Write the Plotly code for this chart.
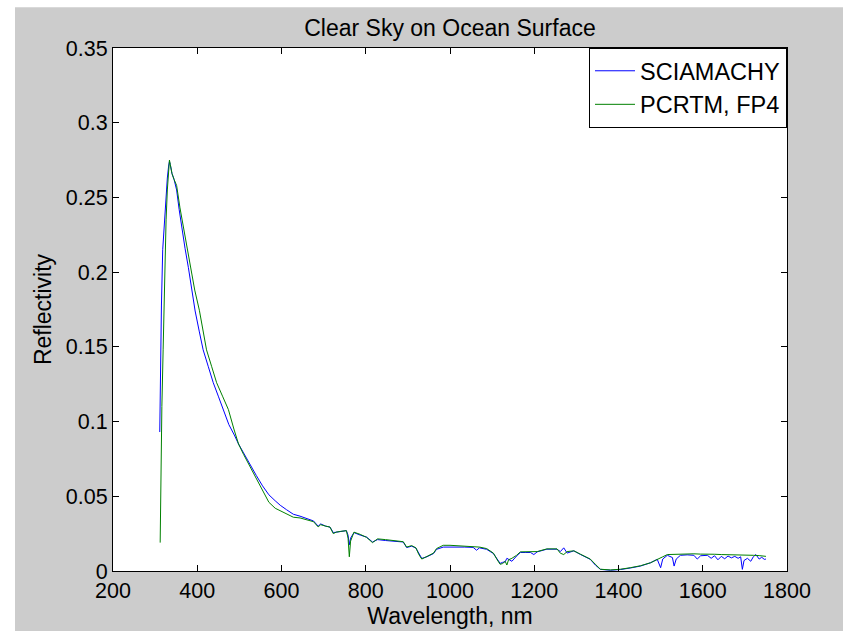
import plotly.graph_objects as go

# ---------------- data ----------------
sciamachy_wl = [311, 312, 313, 315, 318, 322, 326, 329, 332, 334, 336, 340, 345, 351, 357, 363,
                371, 379, 387, 395, 405, 414, 426, 438, 450, 462, 475, 488, 498, 510, 525, 540,
                555, 570, 585, 597, 612, 628, 644, 660, 676, 687, 693, 705, 715, 723, 730, 740,
                747, 754, 758, 761, 764, 772, 787, 802, 816, 828, 847, 870, 889, 897, 909, 919,
                926, 933, 945, 961, 968, 984, 1000, 1015, 1035, 1055, 1063, 1070, 1087, 1103, 1112, 1119,
                1125, 1131, 1135, 1139, 1147, 1158, 1167, 1180, 1191, 1199, 1207, 1230, 1254, 1262, 1270, 1278,
                1294, 1310, 1333, 1345, 1357, 1381, 1405, 1428, 1452, 1476, 1492, 1500, 1505, 1516, 1528, 1532,
                1537, 1547, 1563, 1579, 1587, 1595, 1611, 1620, 1628, 1636, 1644, 1652, 1660, 1668, 1676, 1684,
                1690, 1694, 1698, 1706, 1714, 1720, 1726, 1734, 1740, 1746, 1750]
sciamachy_refl = [0.093, 0.130, 0.155, 0.178, 0.215, 0.235, 0.250, 0.263, 0.271, 0.274, 0.272, 0.266, 0.262, 0.255, 0.242, 0.230,
                  0.216, 0.203, 0.188, 0.174, 0.160, 0.148, 0.137, 0.126, 0.117, 0.108, 0.098, 0.091, 0.085, 0.079, 0.071, 0.064,
                  0.057, 0.051, 0.047, 0.044, 0.041, 0.038, 0.0367, 0.035, 0.0335, 0.030, 0.0315, 0.030, 0.0294, 0.0257, 0.026, 0.0265,
                  0.027, 0.027, 0.024, 0.0175, 0.022, 0.0257, 0.024, 0.0227, 0.0194, 0.021, 0.0204, 0.020, 0.0194, 0.0157, 0.0166, 0.0154,
                  0.012, 0.0084, 0.0095, 0.0117, 0.0145, 0.016, 0.016, 0.0162, 0.016, 0.0158, 0.0139, 0.0155, 0.0145, 0.0117, 0.008, 0.0051,
                  0.0058, 0.0062, 0.0085, 0.008, 0.0065, 0.010, 0.0124, 0.0124, 0.0124, 0.011, 0.0128, 0.0146, 0.0146, 0.013, 0.0155, 0.012,
                  0.0135, 0.011, 0.0078, 0.004, 0.0011, 0.0005, 0.001, 0.002, 0.0033, 0.0055, 0.0078, 0.0022, 0.008, 0.0105, 0.009, 0.0033,
                  0.008, 0.0105, 0.0108, 0.0105, 0.008, 0.0102, 0.0105, 0.0085, 0.0102, 0.0075, 0.0098, 0.0082, 0.0100, 0.0088, 0.0098, 0.0085,
                  0.0095, 0.0011, 0.007, 0.0085, 0.0065, 0.0095, 0.011, 0.008, 0.0092, 0.0078, 0.008]

pcrtm_wl = [312, 314, 316, 319, 323, 326, 329, 332, 334, 336, 340, 345, 351, 359, 367, 375,
            383, 394, 405, 414, 422, 434, 446, 460, 474, 487, 498, 510, 525, 540, 555, 570,
            585, 597, 612, 628, 644, 660, 676, 687, 693, 705, 715, 723, 730, 740, 747, 754,
            758, 761, 764, 772, 787, 802, 816, 828, 847, 870, 889, 897, 909, 919, 926, 933,
            945, 961, 968, 984, 1000, 1015, 1035, 1055, 1070, 1087, 1103, 1112, 1119, 1125, 1131, 1135,
            1139, 1147, 1158, 1167, 1180, 1191, 1207, 1230, 1254, 1262, 1270, 1278, 1294, 1310, 1333, 1345,
            1357, 1381, 1405, 1428, 1452, 1476, 1492, 1505, 1516, 1532, 1547, 1563, 1579, 1595, 1611, 1628,
            1644, 1660, 1676, 1690, 1706, 1720, 1734, 1746, 1750]
pcrtm_refl = [0.019, 0.070, 0.110, 0.148, 0.209, 0.235, 0.255, 0.268, 0.275, 0.272, 0.266, 0.262, 0.258, 0.243, 0.230, 0.216,
              0.203, 0.188, 0.1745, 0.161, 0.148, 0.137, 0.126, 0.117, 0.108, 0.095, 0.085, 0.078, 0.070, 0.061, 0.053, 0.046,
              0.042, 0.0404, 0.038, 0.036, 0.0355, 0.034, 0.033, 0.0295, 0.031, 0.030, 0.0294, 0.025, 0.026, 0.0265, 0.027, 0.027,
              0.022, 0.0095, 0.020, 0.026, 0.0245, 0.0225, 0.019, 0.0215, 0.021, 0.0205, 0.0196, 0.016, 0.017, 0.0155, 0.011, 0.008,
              0.0098, 0.012, 0.015, 0.0172, 0.0172, 0.017, 0.0168, 0.0165, 0.016, 0.015, 0.012, 0.0075, 0.0045, 0.005, 0.0065, 0.004,
              0.0075, 0.0085, 0.0105, 0.0128, 0.0128, 0.0126, 0.013, 0.0148, 0.0148, 0.0119, 0.011, 0.013, 0.0135, 0.0112, 0.008, 0.0045,
              0.0012, 0.0007, 0.0012, 0.0022, 0.0035, 0.0055, 0.008, 0.0095, 0.0110, 0.0112, 0.0115, 0.0116, 0.0115, 0.0113, 0.0115, 0.0112,
              0.011, 0.011, 0.0108, 0.0107, 0.0106, 0.0105, 0.0103, 0.010, 0.0098]

x_ticks = [200, 400, 600, 800, 1000, 1200, 1400, 1600, 1800]
y_ticks = [0, 0.05, 0.1, 0.15, 0.2, 0.25, 0.3, 0.35]
y_tick_text = ["0", "0.05", "0.1", "0.15", "0.2", "0.25", "0.3", "0.35"]

assert len(sciamachy_wl) == len(sciamachy_refl)
assert len(pcrtm_wl) == len(pcrtm_refl)

# ---------------- figure ----------------
W, H = 843, 631
ML, MR, MT, MB = 113, 56, 48, 56
PW, PH = W - ML - MR, H - MT - MB
FONT = "Liberation Sans, Arial, Helvetica, sans-serif"
TICK_SIZE = 21.5

fig = go.Figure()
fig.add_trace(go.Scatter(x=sciamachy_wl, y=sciamachy_refl, mode="lines", name="SCIAMACHY",
                         line=dict(color="#0000ff", width=1)))
fig.add_trace(go.Scatter(x=pcrtm_wl, y=pcrtm_refl, mode="lines", name="PCRTM, FP4",
                         line=dict(color="#008000", width=1)))

axis_common = dict(showline=True, linecolor="black", linewidth=1, mirror="ticks",
                   ticks="inside", ticklen=6, tickcolor="black", showgrid=False,
                   zeroline=False, tickfont=dict(family=FONT, size=TICK_SIZE, color="black"))

fig.update_xaxes(range=[200, 1800], tickvals=x_ticks, ticktext=[str(v) for v in x_ticks],
                 title=dict(text="Wavelength, nm", font=dict(family=FONT, size=23, color="black"), standoff=0),
                 **axis_common)
fig.update_yaxes(range=[0, 0.35], tickvals=y_ticks, ticktext=y_tick_text,
                 title=dict(text="Reflectivity", font=dict(family=FONT, size=23, color="black"), standoff=7),
                 **axis_common)

# white strips at the left (15px) and top (7px) edges of the picture
fig.add_shape(type="rect", xref="paper", yref="paper", layer="above", line_width=0, fillcolor="white",
              x0=-ML / PW - 0.01, x1=(15 - ML) / PW, y0=-MB / PH - 0.01, y1=(H - MB) / PH + 0.01)
fig.add_shape(type="rect", xref="paper", yref="paper", layer="above", line_width=0, fillcolor="white",
              x0=-ML / PW - 0.01, x1=(W - ML) / PW + 0.01, y0=(H - MB - 7) / PH, y1=(H - MB) / PH + 0.01)

fig.update_layout(
    width=W, height=H,
    margin=dict(l=ML, r=MR, t=MT, b=MB),
    paper_bgcolor="#cccccc", plot_bgcolor="white",
    title=dict(text="Clear Sky on Ocean Surface", x=0.5, xanchor="center", xref="paper",
               y=1 - 28 / H, yanchor="middle", font=dict(family=FONT, size=23, color="black")),
    font=dict(family=FONT, size=TICK_SIZE, color="black"),
    showlegend=True,
    legend=dict(x=1, y=1, xanchor="right", yanchor="top", bgcolor="white",
                bordercolor="black", borderwidth=1, font=dict(family=FONT, size=23.5, color="black"),
                itemwidth=40, tracegroupgap=0),
)

fig.write_html("out.html", config={"displayModeBar": False},
               post_script="document.body.style.margin='0';document.body.style.overflow='hidden';")
